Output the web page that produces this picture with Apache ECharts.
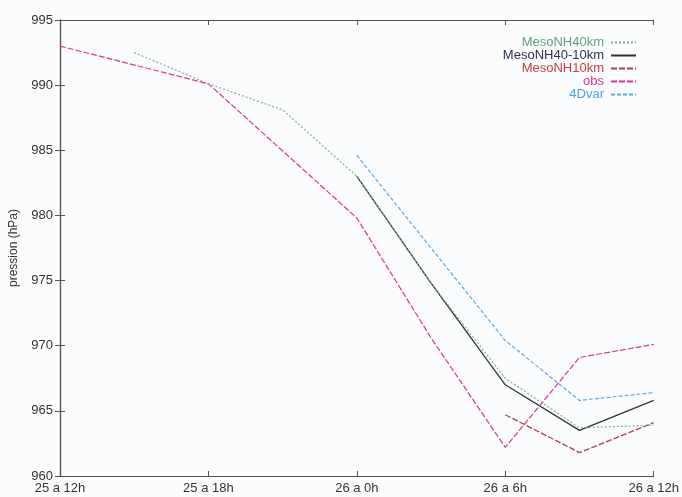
<!DOCTYPE html>
<html>
<head>
<meta charset="utf-8">
<script src="https://cdn.jsdelivr.net/npm/echarts@6/dist/echarts.min.js"></script>
<style>
  html, body { margin: 0; padding: 0; background: #fbfcfd; }
  #container { width: 682px; height: 497px; }
</style>
</head>
<body>
<div id="container"></div>
<script>
// hours since 25 a 12h
var tickLabels = ['25 a 12h', '25 a 18h', '26 a 0h', '26 a 6h', '26 a 12h'];

var hours40 = [3, 6, 9, 12, 15, 18, 21, 24];
var meso40 = [992.5, 990.1, 988.1, 983.0, 974.8, 967.5, 963.7, 963.9];

var hours4010 = [12, 15, 18, 21, 24];
var meso4010 = [983.0, 974.8, 967.0, 963.5, 965.8];

var hours10 = [18, 21, 24];
var meso10 = [964.7, 961.8, 964.1];

var hoursObs = [0, 6, 12, 15, 18, 21, 24];
var obs = [993.0, 990.1, 979.8, 970.6, 962.2, 969.1, 970.1];

var hours4d = [12, 18, 21, 24];
var var4d = [984.6, 970.4, 965.8, 966.4];

function pairs(xs, ys) {
    return xs.map(function (x, i) { return [x, ys[i]]; });
}

var dom = document.getElementById("container");
var myChart = echarts.init(dom);

var font = 'Liberation Sans';
var axisColor = '#555';

option = {
    backgroundColor: '#fbfcfd',
    animation: false,
    grid: { left: 58, right: 27, top: 20, bottom: 21 },
    legend: {
        orient: 'vertical',
        right: 40,
        top: 31,
        align: 'right',
        itemWidth: 25,
        itemHeight: 8,
        itemGap: 0,
        itemStyle: { opacity: 0 },
        textStyle: { fontFamily: font, fontSize: 13, lineHeight: 13, padding: [0, 2, 0, 0] },
        data: [
            { name: 'MesoNH40km', textStyle: { color: '#5fa276' } },
            { name: 'MesoNH40-10km', textStyle: { color: '#2c3150' } },
            { name: 'MesoNH10km', textStyle: { color: '#cc3b3f' } },
            { name: 'obs', textStyle: { color: '#d6388e' } },
            { name: '4Dvar', textStyle: { color: '#4aa2e6' } }
        ]
    },
    xAxis: [
        {
            type: 'value', min: 0, max: 24, interval: 6,
            axisLine: { lineStyle: { color: axisColor, width: 1.2 } },
            axisTick: { inside: true, length: 5, lineStyle: { color: axisColor } },
            splitLine: { show: false },
            axisLabel: {
                color: '#333', fontFamily: font, fontSize: 13, margin: 6,
                formatter: function (v) { return tickLabels[v / 6]; }
            }
        },
        {
            type: 'value', min: 0, max: 24, interval: 6, position: 'top',
            axisLine: { lineStyle: { color: axisColor, width: 1.2 } },
            axisTick: { inside: true, length: 5, lineStyle: { color: axisColor } },
            splitLine: { show: false },
            axisLabel: { show: false }
        }
    ],
    yAxis: [
        {
            type: 'value', min: 960, max: 995, interval: 5,
            name: 'pression (hPa)', nameLocation: 'middle', nameGap: 40,
            nameTextStyle: { color: '#333', fontFamily: font, fontSize: 12 },
            axisLine: { show: true, lineStyle: { color: axisColor, width: 1.2 } },
            axisTick: { show: true, inside: true, length: 5, lineStyle: { color: axisColor } },
            splitLine: { show: false },
            axisLabel: { color: '#333', fontFamily: font, fontSize: 13, margin: 7 }
        },
        {
            type: 'value', min: 960, max: 995, interval: 5, position: 'right',
            axisLine: { show: true, lineStyle: { color: axisColor, width: 1.2 } },
            axisTick: { show: true, inside: true, length: 5, lineStyle: { color: axisColor } },
            splitLine: { show: false },
            axisLabel: { show: false }
        }
    ],
    series: [
        {
            name: 'MesoNH40-10km', type: 'line', symbol: 'none', z: 2,
            data: pairs(hours4010, meso4010),
            lineStyle: { color: '#333333', width: 1.3, type: 'solid' },
            itemStyle: { color: '#333333' }
        },
        {
            name: 'MesoNH10km', type: 'line', symbol: 'none', z: 3,
            data: pairs(hours10, meso10),
            lineStyle: { color: '#a8434a', width: 1.3, type: [6, 2] },
            itemStyle: { color: '#a8434a' }
        },
        {
            name: 'obs', type: 'line', symbol: 'none', z: 4,
            data: pairs(hoursObs, obs),
            lineStyle: { color: '#d6388e', width: 1.2, type: [6, 2] },
            itemStyle: { color: '#d6388e' }
        },
        {
            name: '4Dvar', type: 'line', symbol: 'none', z: 5,
            data: pairs(hours4d, var4d),
            lineStyle: { color: '#5aaae8', width: 1.2, type: [4, 2] },
            itemStyle: { color: '#5aaae8' }
        },
        {
            name: 'MesoNH40km', type: 'line', symbol: 'none', z: 6,
            data: pairs(hours40, meso40),
            lineStyle: { color: '#78b48a', width: 1.2, type: [2, 2] },
            itemStyle: { color: '#78b48a' }
        }
    ]
};

if (option && typeof option === "object") {
    myChart.setOption(option, true);
}
</script>
</body>
</html>
